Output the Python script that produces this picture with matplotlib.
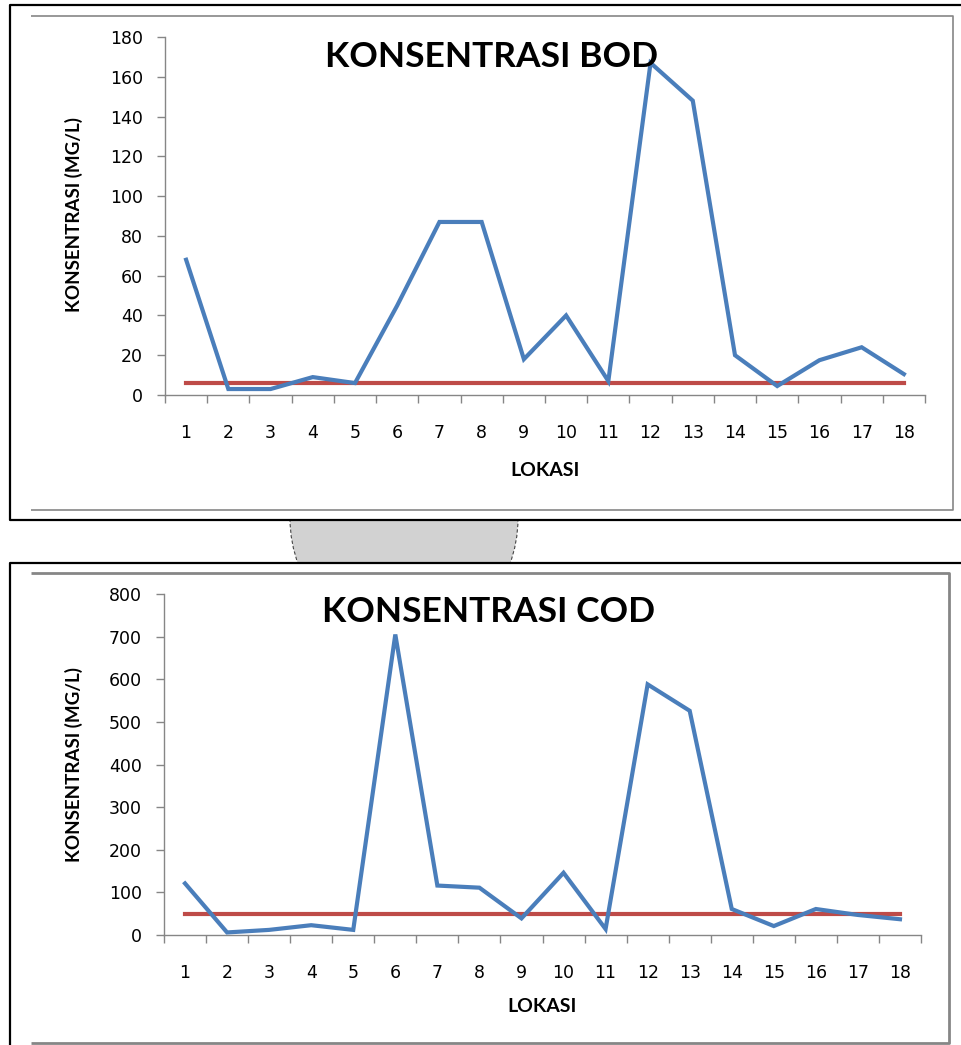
import matplotlib
matplotlib.use("Agg")
import matplotlib.pyplot as plt
from matplotlib.patches import Rectangle, Circle
from matplotlib.lines import Line2D

W, H = 962, 1045

lokasi = list(range(1, 19))
bod = [68, 3, 3, 9, 6, 45, 87, 87, 18, 40, 7, 167, 148, 20, 4.5, 17.5, 24, 10.5]
bod_std = [6] * 18
cod = [121, 6, 12, 23, 12, 705, 116, 111, 39, 146, 14, 588, 526, 61, 21, 61, 47, 37]
cod_std = [50] * 18

BLUE = "#4a7ebb"
RED = "#be4b48"
GRAY = "#868686"


def fx(x):
    return x / W


def fy(y):
    return 1 - y / H


fig = plt.figure(figsize=(W / 100, H / 100), dpi=100)


def frame_line(xs, ys, color, lw):
    fig.add_artist(Line2D([fx(x) for x in xs], [fy(y) for y in ys],
                          color=color, lw=lw, transform=fig.transFigure,
                          solid_capstyle="butt"))


# watermark between the two panels
clip = Rectangle((fx(0), fy(563)), 1, fy(520) - fy(563), transform=fig.transFigure)
logo = Circle((fx(404), fy(518)), 114 / W, transform=fig.transFigure,
              facecolor="#d2d2d2", edgecolor="#444444", lw=0.8, ls=(0, (3, 2)))
fig.add_artist(logo)
logo.set_clip_path(clip)


def panel(rect, yvals, std, ymax, ystep, title, title_xy, ylab_xy, xlab_xy):
    ax = fig.add_axes(rect)
    ax.plot(lokasi, yvals, color=BLUE, lw=3, solid_joinstyle="miter", zorder=3)
    ax.plot(lokasi, std, color=RED, lw=3, zorder=2)
    ax.set_xlim(0.5, 18.5)
    ax.set_ylim(0, ymax)
    ax.set_yticks(range(0, ymax + 1, ystep))
    ax.set_xticks(lokasi)
    ax.set_xticks([i + 0.5 for i in range(0, 19)], minor=True)
    for s in ["top", "right"]:
        ax.spines[s].set_visible(False)
    for s in ["left", "bottom"]:
        ax.spines[s].set_color(GRAY)
        ax.spines[s].set_linewidth(1)
    ax.tick_params(axis="y", length=6, width=1, color=GRAY, pad=10, labelsize=12.5)
    ax.tick_params(axis="x", which="major", length=0, pad=21, labelsize=12.5)
    ax.tick_params(axis="x", which="minor", length=6, width=1, color=GRAY)
    fig.text(fx(title_xy[0]), fy(title_xy[1]), title, family="Lato",
             fontweight="bold", fontsize=25.5, ha="center", va="center")
    fig.text(fx(ylab_xy[0]), fy(ylab_xy[1]), "KONSENTRASI (MG/L)", family="Lato",
             fontweight="bold", fontsize=13.5, rotation=90, ha="center", va="center")
    fig.text(fx(xlab_xy[0]), fy(xlab_xy[1]), "LOKASI", family="Lato",
             fontweight="bold", fontsize=14, ha="center", va="center")
    return ax


panel([fx(165), fy(395), fx(925) - fx(165), fy(37) - fy(395)],
      bod, bod_std, 180, 20, "KONSENTRASI BOD", (492, 57), (74, 214), (545, 470))
panel([fx(164), fy(935), fx(921) - fx(164), fy(594) - fy(935)],
      cod, cod_std, 800, 100, "KONSENTRASI COD", (489, 612), (74, 765), (542, 1006))

# outer page frames (black) and chart-area borders (gray)
frame_line([965, 10, 10, 965], [5, 5, 520, 520], "black", 1.6)
frame_line([31, 953, 953, 31], [15.5, 15.5, 510, 510], GRAY, 1.2)
frame_line([965, 10, 10], [563, 563, 1050], "black", 1.6)
frame_line([31, 949, 949, 31], [573, 573, 1043, 1043], GRAY, 2)

fig.savefig("out.png", dpi=100)
